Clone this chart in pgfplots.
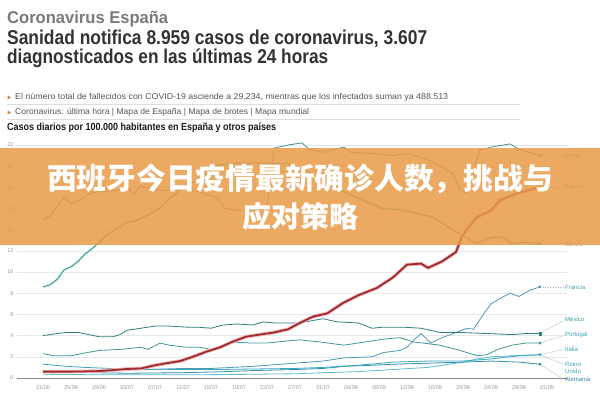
\documentclass[border=0pt]{standalone}
\usepackage{graphicx}
\usepackage{pgfplots}
\pgfplotsset{compat=1.18}
\usepackage{fontspec}
\setmainfont{Liberation Sans}
\newfontfamily\cjk{Noto Sans CJK SC}
\definecolor{cBR}{HTML}{4A8C96}
\definecolor{cES}{HTML}{9E2A2F}
\definecolor{cESg}{HTML}{F3B8B8}
\definecolor{cUS}{HTML}{3E8C88}
\definecolor{cFR}{HTML}{4E9AB4}
\definecolor{cMX}{HTML}{327E78}
\definecolor{cPT}{HTML}{3E9A98}
\definecolor{cIT}{HTML}{5CBCD0}
\definecolor{cUK}{HTML}{3AA6BE}
\definecolor{cDE}{HTML}{2F8EA8}
\definecolor{glow}{HTML}{C8F0F4}
\definecolor{gridc}{HTML}{E6E9EC}
\definecolor{tickc}{HTML}{9A9A9A}
\definecolor{lblc}{HTML}{8C9AA0}
\definecolor{t1}{HTML}{7A7A7A}
\definecolor{t2}{HTML}{333333}
\definecolor{smallc}{HTML}{555555}
\definecolor{tri}{HTML}{E07B39}
\definecolor{sepc}{HTML}{DDDDDD}
\definecolor{banner}{RGB}{233,155,73}
\begin{document}
\begin{tikzpicture}[x=1pt,y=1pt]
\fill[white] (0,0) rectangle (600,395);
% header
\node[anchor=base west, inner sep=0, text=t1] at (7,371) {\resizebox{161pt}{\height}{\fontsize{17}{17}\selectfont\bfseries Coronavirus España}};
\node[anchor=base west, inner sep=0, text=t2] at (7,350) {\resizebox{420pt}{\height}{\fontsize{20}{20}\selectfont\bfseries Sanidad notifica 8.959 casos de coronavirus, 3.607}};
\node[anchor=base west, inner sep=0, text=t2] at (7,331.5) {\resizebox{321pt}{\height}{\fontsize{20}{20}\selectfont\bfseries diagnosticados en las últimas 24 horas}};
\fill[tri] (7.5,295.5) -- (7.5,299.5) -- (11,297.5) -- cycle;
\node[anchor=base west, inner sep=0, text=smallc] at (15,295) {\resizebox{433pt}{\height}{\fontsize{8.4}{9}\selectfont El número total de fallecidos con COVID-19 asciende a 29.234, mientras que los infectados suman ya 488.513}};
\draw[sepc, line width=0.6pt] (7,291) -- (520,291);
\fill[tri] (7.5,280.5) -- (7.5,284.5) -- (11,282.5) -- cycle;
\node[anchor=base west, inner sep=0, text=smallc] at (15,280) {\resizebox{294pt}{\height}{\fontsize{8.4}{9}\selectfont Coronavirus: última hora | Mapa de España | Mapa de brotes | Mapa mundial}};
\draw[sepc, line width=0.6pt] (7,275.7) -- (520,275.7);
\node[anchor=base west, inner sep=0, text=black!90] at (7,264.3) {\resizebox{269pt}{\height}{\fontsize{10.3}{11}\selectfont\bfseries Casos diarios por 100.000 habitantes en España y otros países}};
\begin{axis}[
  at={(17pt,17pt)}, anchor=south west,
  scale only axis, width=550pt, height=233pt,
  xmin=-3.714, xmax=74.857, ymin=0, ymax=22,
  clip=false,
  axis x line*=bottom, axis y line*=left,
  x axis line style={draw=black!45, line width=0.6pt},
  y axis line style={draw=none},
  ytick={0,2,...,22}, ymajorgrids,
  grid style={gridc, line width=0.5pt},
  xtick={0,4,...,72},
  xticklabels={21/06,25/06,29/06,03/07,07/07,11/07,15/07,19/07,23/07,27/07,31/07,04/08,08/08,12/08,16/08,20/08,24/08,28/08,01/09},
  major tick length=0pt,
  /pgf/number format/assume math mode=true,
  tick label style={font=\fontsize{5.5}{6}\selectfont, text=tickc},
  xticklabel style={yshift=-4pt},
  yticklabel style={xshift=0pt},
]
% lower lines
\addplot[cIT, line width=0.8pt] coordinates {(0,0.35) (5,0.32) (10,0.3) (15,0.3) (20,0.3) (25,0.32) (30,0.35) (36,0.4) (40,0.5) (45,0.6) (50,0.8) (55,1.0) (58,1.3) (60,1.5) (62,1.8) (64,2.0) (67,2.1) (71,2.2)};
\addplot[cDE, line width=0.8pt] coordinates {(0,0.7) (3,0.6) (7,0.5) (12,0.45) (20,0.5) (26,0.6) (30,0.7) (36,0.8) (40,0.9) (43,1.1) (47,1.2) (50,1.3) (55,1.4) (60,1.5) (64,1.6) (68,1.5) (71,1.3)};
\addplot[cUK, line width=0.8pt] coordinates {(0,1.3) (3.4,1.1) (6,1.0) (9.6,0.9) (13,0.85) (20,0.8) (25,0.8) (30,0.85) (36,0.9) (40,1.0) (45,1.2) (50,1.5) (55,1.6) (60,1.6) (64,1.8) (68,2.1) (71,2.2)};
\addplot[cFR, line width=0.8pt] coordinates {(0,0.7) (5,0.6) (10,0.7) (15,0.8) (20,0.9) (24,0.9) (30,1.1) (36,1.4) (40,1.6) (43,1.9) (47,2.0) (48.6,2.4) (51,2.6) (52,2.9) (53,3.6) (54,4.2) (55.4,3.3) (57,3.8) (59,4.3) (60.6,4.7) (61.5,4.6) (63,6.1) (64,7.0) (65,7.4) (66.7,8.0) (68,7.7) (69.6,8.3) (71,8.6)};
\addplot[cPT, line width=0.8pt] coordinates {(0,2.3) (1.5,2.1) (4,2.1) (6.3,2.4) (8,2.6) (11,2.7) (14,2.9) (15,2.7) (16.7,3.3) (18,3.1) (20.6,2.9) (22.4,2.9) (24,2.7) (27,3.4) (29.6,3.3) (32,3.3) (35,3.5) (36.7,3.6) (39.6,3.4) (43,3.1) (46,3.4) (49,3.7) (51,3.8) (53,3.4) (56.7,3.1) (59.6,2.6) (62,2.1) (63.4,2.2) (65,2.7) (67,3.1) (69,3.3) (71,3.3)};
\addplot[cMX, line width=0.8pt] coordinates {(0,4.0) (2,4.2) (3.4,4.3) (5,4.3) (8,3.9) (10,3.9) (11,4.1) (12,4.5) (14,4.7) (16,4.9) (18,4.9) (20.6,4.8) (22,4.8) (24,4.7) (25.7,5.0) (27.7,5.1) (30,5.0) (31.4,5.3) (33,5.2) (36.7,5.2) (40,5.6) (42,5.3) (45,5.2) (47,4.7) (48.6,4.8) (51.4,4.8) (54,4.7) (56.7,4.3) (59.6,4.3) (63.4,4.2) (67,4.1) (69,4.2) (71,4.2)};
% EE.UU with glow
\addplot[glow, line width=2.4pt] coordinates {(0,8.6) (1,8.8) (2,9.3) (3,10.2) (4,10.5) (5,11.0) (6,11.7) (7,12.2) (8,12.8) (9,13.4) (10,13.9) (11,14.3) (12,14.7) (13,14.8) (14,15.1) (15,15.4) (16,15.8) (17,16.2) (18,16.9) (20,18.0) (22,18.7) (24,19.6) (25,20.1) (28,20.3) (32,20.3) (35,20.2) (37,19.8) (39,19.0) (41,18.4) (43,17.6) (46,16.7) (48.6,16.0) (51,15.9) (53,15.6) (55.7,15.2) (58,14.2) (60.6,13.2) (62,12.7) (64,13.3) (65.7,13.3) (67,12.7) (69,12.8) (71,12.7)};
\addplot[cUS, line width=0.8pt] coordinates {(0,8.6) (1,8.8) (2,9.3) (3,10.2) (4,10.5) (5,11.0) (6,11.7) (7,12.2) (8,12.8) (9,13.4) (10,13.9) (11,14.3) (12,14.7) (13,14.8) (14,15.1) (15,15.4) (16,15.8) (17,16.2) (18,16.9) (20,18.0) (22,18.7) (24,19.6) (25,20.1) (28,20.3) (32,20.3) (35,20.2) (37,19.8) (39,19.0) (41,18.4) (43,17.6) (46,16.7) (48.6,16.0) (51,15.9) (53,15.6) (55.7,15.2) (58,14.2) (60.6,13.2) (62,12.7) (64,13.3) (65.7,13.3) (67,12.7) (69,12.8) (71,12.7)};
% Brasil
\addplot[cBR, line width=0.8pt] coordinates {(0,14.9) (1,15.3) (2,16.2) (3,17.0) (4,16.5) (5,16.7) (7,17.5) (10,17.7) (12,17.9) (13,17.4) (14,18.2) (15,17.9) (17,17.7) (21,17.9) (23,17.4) (25,17.0) (26,16.0) (28,15.8) (30,15.8) (32,16.0) (33,21.7) (35,22.0) (37,22.2) (38,21.6) (40,21.3) (41,21.5) (43,21.8) (44,21.3) (47,21.2) (50,21.0) (52,21.2) (55,20.6) (57,19.9) (58.6,19.3) (59.6,17.7) (60.5,17.5) (62.4,21.5) (64,21.8) (66.7,22.1) (68,21.6) (71,21.0)};
% España with glow
\addplot[cESg, line width=3.6pt] coordinates {(0,0.6) (4,0.6) (8,0.65) (10,0.75) (12,0.85) (14,0.9) (16,1.2) (17.7,1.4) (19.6,1.6) (21.4,2.0) (23.4,2.5) (25.3,2.9) (27,3.4) (29,3.9) (31,4.1) (33,4.3) (35,4.6) (36.7,5.2) (38.6,5.8) (40.6,6.1) (42.9,7.1) (45,7.8) (47.7,8.5) (50,9.5) (52,10.7) (54,10.8) (55,10.4) (57,11.0) (59,11.9) (59.8,13.3) (60.5,14.0) (62,15.2) (64,15.8) (65.3,16.8) (68,17.5) (71,18.0)};
\addplot[cES, line width=1.8pt] coordinates {(0,0.6) (4,0.6) (8,0.65) (10,0.75) (12,0.85) (14,0.9) (16,1.2) (17.7,1.4) (19.6,1.6) (21.4,2.0) (23.4,2.5) (25.3,2.9) (27,3.4) (29,3.9) (31,4.1) (33,4.3) (35,4.6) (36.7,5.2) (38.6,5.8) (40.6,6.1) (42.9,7.1) (45,7.8) (47.7,8.5) (50,9.5) (52,10.7) (54,10.8) (55,10.4) (57,11.0) (59,11.9) (59.8,13.3) (60.5,14.0) (62,15.2) (64,15.8) (65.3,16.8) (68,17.5) (71,18.0)};
% connectors
\addplot[black!30, dotted, line width=0.5pt] coordinates {(71,21.0) (74.3,21.0)};
\addplot[black!30, dotted, line width=0.5pt] coordinates {(71,18.0) (74.3,18.0)};
\addplot[black!30, dotted, line width=0.5pt] coordinates {(71,12.7) (74.3,12.7)};
\addplot[black!30, dotted, line width=0.5pt] coordinates {(71,8.6) (74.3,8.6)};
\addplot[black!25, line width=0.4pt] coordinates {(71,4.2) (74.3,5.4)};
\addplot[black!25, line width=0.4pt] coordinates {(71,3.3) (74.3,4.0)};
\addplot[black!25, line width=0.4pt] coordinates {(71,2.2) (74.3,2.7)};
\addplot[black!25, line width=0.4pt] coordinates {(71,2.2) (74.3,1.3)};
\addplot[black!25, line width=0.4pt] coordinates {(71,1.3) (74.3,-0.1)};
% end markers
\addplot[only marks, mark=*, mark size=1.3pt, cBR] coordinates {(71,21.0)};
\addplot[only marks, mark=*, mark size=1.5pt, cES] coordinates {(71,18.0)};
\addplot[only marks, mark=*, mark size=1.3pt, cUS] coordinates {(71,12.7)};
\addplot[only marks, mark=*, mark size=1.3pt, cFR] coordinates {(71,8.6)};
\addplot[only marks, mark=square*, mark size=1.2pt, cMX] coordinates {(71,4.2)};
\addplot[only marks, mark=*, mark size=1.2pt, cPT] coordinates {(71,3.3)};
\addplot[only marks, mark=*, mark size=1.2pt, cUK] coordinates {(71,2.2)};
\addplot[only marks, mark=*, mark size=1.2pt, cDE] coordinates {(71,1.3)};
% labels
\begin{scope}[every node/.style={anchor=west, inner sep=0.5pt, font=\fontsize{6}{6.5}\selectfont}]
\node[text=lblc] at (axis cs:74.5,21.0) {Brasil};
\node[text=lblc] at (axis cs:74.5,18.0) {España};
\node[text=lblc] at (axis cs:74.5,12.6) {EE.UU};
\node[text=cFR] at (axis cs:74.5,8.6) {Francia};
\node[text=cPT] at (axis cs:74.5,5.5) {México};
\node[text=cUK] at (axis cs:74.5,4.05) {Portugal};
\node[text=cUK] at (axis cs:74.5,2.75) {Italia};
\node[text=cUK] at (axis cs:74.5,1.3) {Reino};
\node[text=cUK] at (axis cs:74.5,0.6) {Unido};
\node[text=cDE] at (axis cs:74.5,-0.15) {Alemania};
\end{scope}
\end{axis}
% banner
\fill[banner, fill opacity=0.86] (0,150) rectangle (600,247);
\node[text=white, inner sep=0] at (300,216.5) {\resizebox{506pt}{\height}{\cjk\bfseries\fontsize{29.5}{30}\selectfont 西班牙今日疫情最新确诊人数，挑战与}};
\node[text=white, inner sep=0] at (300,178.5) {\cjk\bfseries\fontsize{29}{30}\selectfont 应对策略};
\end{tikzpicture}
\end{document}
